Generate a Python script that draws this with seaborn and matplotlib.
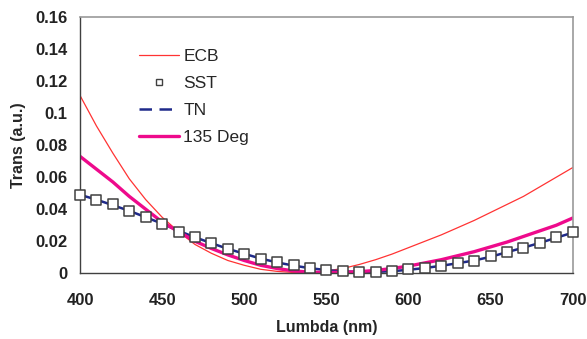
import numpy as np
import pandas as pd
import matplotlib
matplotlib.use("Agg")
import matplotlib.pyplot as plt
import seaborn as sns
from matplotlib.lines import Line2D

wavelength = list(range(400, 701, 10))
ecb = [0.111, 0.092, 0.075, 0.059, 0.046, 0.035, 0.026, 0.018, 0.0125, 0.008,
       0.005, 0.0025, 0.0012, 0.0005, 0.0005, 0.0015, 0.003, 0.0055, 0.0085, 0.012,
       0.016, 0.020, 0.024, 0.0285, 0.033, 0.038, 0.043, 0.048, 0.054, 0.060, 0.066]
sst = [0.049, 0.046, 0.043, 0.039, 0.035, 0.031, 0.026, 0.0225, 0.019, 0.0152,
       0.0123, 0.009, 0.007, 0.005, 0.0035, 0.002, 0.0012, 0.001, 0.001, 0.0014,
       0.0025, 0.0033, 0.0048, 0.0064, 0.0079, 0.0106, 0.0135, 0.016, 0.019, 0.0225, 0.0256]
tn = [0.049, 0.046, 0.0425, 0.039, 0.035, 0.031, 0.0265, 0.0225, 0.0188, 0.0153,
      0.0122, 0.0092, 0.0068, 0.0048, 0.0032, 0.002, 0.0012, 0.0009, 0.0009, 0.0013,
      0.0022, 0.0033, 0.0047, 0.0063, 0.008, 0.0103, 0.0132, 0.016, 0.019, 0.0222, 0.0254]
deg135 = [0.073, 0.065, 0.057, 0.048, 0.040, 0.032, 0.026, 0.020, 0.0155, 0.0115,
          0.008, 0.005, 0.003, 0.0015, 0.0007, 0.0005, 0.0006, 0.001, 0.0018, 0.003,
          0.0045, 0.0065, 0.0085, 0.011, 0.0135, 0.0165, 0.0195, 0.023, 0.0265, 0.030, 0.0345]
x_ticks = [400, 450, 500, 550, 600, 650, 700]
y_ticks = [0, 0.02, 0.04, 0.06, 0.08, 0.1, 0.12, 0.14, 0.16]
y_tick_labels = ["0", "0.02", "0.04", "0.06", "0.08", "0.1", "0.12", "0.14", "0.16"]

df = pd.DataFrame({"wl": wavelength, "ECB": ecb, "SST": sst, "TN": tn, "135 Deg": deg135})

sns.set_theme(style="white")
plt.rcParams["font.family"] = ["Liberation Sans", "DejaVu Sans"]

fig = plt.figure(figsize=(5.87, 3.39), dpi=100)
ax = fig.add_axes([0.1363, 0.1938, 0.8394, 0.7561])

sns.lineplot(data=df, x="wl", y="ECB", ax=ax, color="#ff3333", linewidth=0.9, label="_nolegend_")
sns.lineplot(data=df, x="wl", y="TN", ax=ax, color="#1f2a8a", linewidth=1.8, label="_nolegend_")
sns.lineplot(data=df, x="wl", y="135 Deg", ax=ax, color="#ee0a8c", linewidth=2.4, label="_nolegend_")
sns.scatterplot(data=df, x="wl", y="SST", ax=ax, marker="s", s=42, facecolor="white",
                edgecolor="#404040", linewidth=1.1, zorder=5, label="_nolegend_", clip_on=False)

handles = [
    Line2D([], [], color="#ff3333", linewidth=0.9),
    Line2D([], [], linestyle="none", marker="s", markersize=5, markerfacecolor="white",
           markeredgecolor="#404040", markeredgewidth=1.0),
    Line2D([], [], color="#1f2a8a", linewidth=1.8, linestyle=(0, (5, 3))),
    Line2D([], [], color="#ee0a8c", linewidth=2.4),
]
ax.legend(handles, ["ECB", "SST", "TN", "135 Deg"], loc="upper left",
          bbox_to_anchor=(0.088, 0.935), frameon=False, fontsize=12.5,
          handlelength=2.3, handletextpad=0.25, labelspacing=0.68)

ax.set_xlim(400, 700)
ax.set_ylim(0, 0.16)
ax.set_xticks(x_ticks)
ax.set_xticklabels([str(v) for v in x_ticks], fontsize=12, fontweight="bold", color="#222222")
ax.set_yticks(y_ticks)
ax.set_yticklabels(y_tick_labels, fontsize=12, fontweight="bold", color="#222222")
ax.tick_params(axis="x", direction="out", length=4, width=1, color="#404040", pad=10)
ax.tick_params(axis="y", direction="out", length=4, width=1, color="#404040", pad=5)
ax.set_xlabel("Lumbda (nm)", fontsize=11.5, fontweight="bold", labelpad=9)
ax.set_ylabel("Trans (a.u.)", fontsize=11.5, fontweight="bold", labelpad=7)

for side in ["left", "bottom"]:
    ax.spines[side].set_color("#404040")
    ax.spines[side].set_linewidth(1.0)
for side in ["top", "right"]:
    ax.spines[side].set_color("#999999")
    ax.spines[side].set_linewidth(1.2)
for side in ax.spines.values():
    side.set_visible(True)

fig.savefig("out.png", dpi=100, facecolor="white")
